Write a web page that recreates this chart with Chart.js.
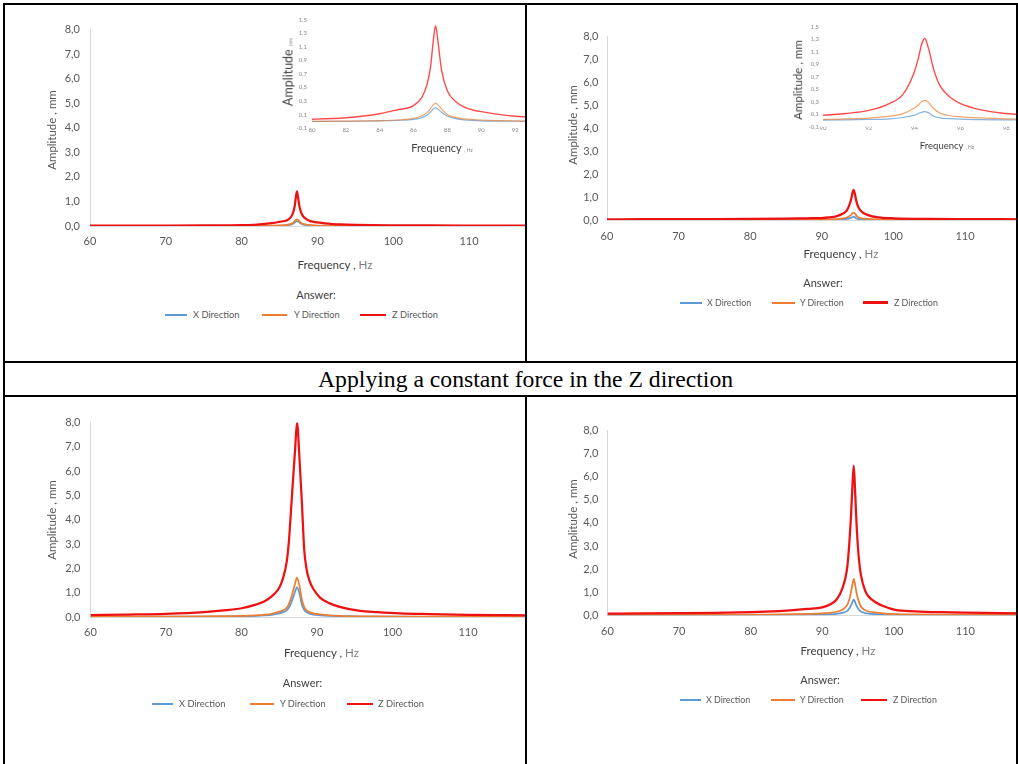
<!DOCTYPE html>
<html><head><meta charset="utf-8">
<script src="https://cdn.jsdelivr.net/npm/chart.js@4.4.1/dist/chart.umd.min.js"></script>
<style>
html,body{margin:0;padding:0;background:#fff;}
body{width:1018px;height:764px;position:relative;overflow:hidden;font-family:Lato,'Open Sans',sans-serif;}
.cell{position:absolute;overflow:hidden;}
.rule{position:absolute;background:#000;}
.t{position:absolute;white-space:nowrap;line-height:1.2;transform:translate(-50%,-50%);}
.ty{position:absolute;white-space:nowrap;line-height:1.2;transform:translate(-50%,-50%) rotate(-90deg);}
.lg{position:absolute;white-space:nowrap;line-height:1.2;transform:translateY(-50%);color:#595959;}
.ll{position:absolute;}
.cap{position:absolute;left:318px;top:363px;height:32px;line-height:32px;font-family:'Liberation Serif','Times New Roman',serif;font-size:23.7px;color:#000;white-space:nowrap;}
</style></head><body>
<div class="cap">Applying a constant force in the Z direction</div>
<script>
// ---------- data ----------
const seriesNames = ['X Direction', 'Y Direction', 'Z Direction'];

// Top-left: resonance near 87.3 Hz
const freqTL = [60, 65, 70, 75, 78, 80, 82, 84, 85, 86, 86.5, 86.8, 87, 87.15, 87.3, 87.45, 87.65, 88, 88.5, 89, 89.5, 90, 91, 92, 93, 95, 100, 105, 110, 115, 120];
const xTL = [0.001, 0.001, 0.001, 0.002, 0.002, 0.003, 0.004, 0.009, 0.016, 0.03, 0.057, 0.095, 0.14, 0.18, 0.2, 0.18, 0.135, 0.078, 0.043, 0.025, 0.016, 0.01, 0.006, 0.004, 0.003, 0.002, 0.001, 0.001, 0.001, 0.001, 0.001];
const yTL = [0.001, 0.001, 0.002, 0.002, 0.003, 0.003, 0.005, 0.012, 0.022, 0.045, 0.085, 0.13, 0.19, 0.24, 0.27, 0.245, 0.185, 0.1, 0.058, 0.038, 0.027, 0.02, 0.012, 0.008, 0.006, 0.004, 0.002, 0.002, 0.001, 0.001, 0.001];
const zTL = [0.012, 0.014, 0.017, 0.022, 0.028, 0.034, 0.055, 0.115, 0.17, 0.235, 0.36, 0.55, 0.8, 1.15, 1.41, 1.16, 0.76, 0.45, 0.29, 0.21, 0.17, 0.145, 0.105, 0.078, 0.062, 0.045, 0.028, 0.021, 0.017, 0.014, 0.012];

// Top-right: resonance near 94.4 Hz
const freqTR = [60, 65, 70, 75, 80, 85, 88, 90, 91, 92, 92.9, 93.5, 93.95, 94.17, 94.3, 94.44, 94.6, 94.83, 95.1, 95.55, 96, 96.9, 98, 98.5, 100, 105, 110, 115, 120];
const xTR = [0.001, 0.001, 0.002, 0.002, 0.003, 0.003, 0.004, 0.005, 0.009, 0.016, 0.026, 0.047, 0.08, 0.11, 0.13, 0.14, 0.125, 0.068, 0.042, 0.028, 0.02, 0.012, 0.008, 0.007, 0.005, 0.003, 0.002, 0.002, 0.001];
const yTR = [0.006, 0.007, 0.008, 0.009, 0.01, 0.012, 0.014, 0.016, 0.025, 0.037, 0.068, 0.11, 0.19, 0.25, 0.3, 0.32, 0.29, 0.19, 0.12, 0.075, 0.058, 0.04, 0.026, 0.022, 0.016, 0.01, 0.008, 0.007, 0.006];
const zTR = [0.03, 0.033, 0.037, 0.042, 0.05, 0.063, 0.075, 0.084, 0.11, 0.16, 0.27, 0.42, 0.74, 1.0, 1.21, 1.31, 1.16, 0.82, 0.56, 0.37, 0.27, 0.17, 0.11, 0.094, 0.075, 0.05, 0.04, 0.034, 0.03];

// Bottom-left: resonance near 87.35 Hz
const freqBL = [60, 65, 70, 75, 78, 80, 82, 83, 84, 85, 85.5, 86, 86.3, 86.6, 86.9, 87.1, 87.35, 87.7, 88, 88.3, 88.6, 89, 89.5, 90.4, 91.7, 93, 95.7, 98, 101, 105, 110, 115, 120];
const xBL = [0.006, 0.008, 0.011, 0.017, 0.024, 0.032, 0.05, 0.065, 0.09, 0.15, 0.2, 0.28, 0.4, 0.6, 0.86, 1.05, 1.22, 0.95, 0.5, 0.3, 0.2, 0.14, 0.1, 0.07, 0.045, 0.032, 0.02, 0.015, 0.012, 0.009, 0.007, 0.006, 0.005];
const yBL = [0.01, 0.012, 0.016, 0.024, 0.034, 0.045, 0.07, 0.09, 0.13, 0.22, 0.28, 0.38, 0.55, 0.82, 1.15, 1.38, 1.62, 1.25, 0.7, 0.42, 0.28, 0.2, 0.15, 0.11, 0.07, 0.05, 0.03, 0.024, 0.018, 0.014, 0.011, 0.009, 0.008];
const zBL = [0.08, 0.1, 0.13, 0.2, 0.28, 0.36, 0.52, 0.64, 0.85, 1.2, 1.6, 2.3, 3.2, 4.6, 6.0, 6.9, 8.0, 6.4, 4.7, 2.8, 2.0, 1.5, 1.16, 0.8, 0.56, 0.42, 0.25, 0.2, 0.15, 0.12, 0.09, 0.075, 0.065];

// Bottom-right: resonance near 94.4 Hz
const freqBR = [60, 65, 70, 75, 80, 82, 86, 88, 90, 91, 92, 92.8, 93.5, 93.8, 94, 94.2, 94.4, 94.6, 94.8, 95.1, 95.4, 96, 96.5, 97.5, 98.5, 100.2, 103, 106.7, 110, 115, 120];
const xBR = [0.004, 0.004, 0.005, 0.006, 0.008, 0.01, 0.015, 0.02, 0.028, 0.038, 0.06, 0.1, 0.19, 0.3, 0.42, 0.56, 0.68, 0.56, 0.4, 0.25, 0.16, 0.09, 0.065, 0.045, 0.032, 0.02, 0.013, 0.01, 0.008, 0.007, 0.006];
const yBR = [0.012, 0.013, 0.015, 0.018, 0.024, 0.028, 0.042, 0.055, 0.075, 0.1, 0.15, 0.24, 0.45, 0.7, 0.98, 1.3, 1.57, 1.3, 0.95, 0.6, 0.38, 0.22, 0.16, 0.11, 0.08, 0.05, 0.034, 0.026, 0.021, 0.017, 0.015];
const zBR = [0.07, 0.075, 0.085, 0.1, 0.13, 0.15, 0.22, 0.27, 0.34, 0.45, 0.68, 1.15, 2.1, 3.2, 4.2, 5.5, 6.48, 5.3, 3.9, 2.5, 1.75, 1.05, 0.8, 0.55, 0.4, 0.23, 0.17, 0.13, 0.11, 0.09, 0.08];

// ticks
const xTicksMain = [60, 70, 80, 90, 100, 110, 120];
const yTicksMain = [0, 1, 2, 3, 4, 5, 6, 7, 8];
const yLabelsMain = ['0,0', '1,0', '2,0', '3,0', '4,0', '5,0', '6,0', '7,0', '8,0'];
const xTicksInsetTL = [80, 82, 84, 86, 88, 90, 92, 94];
const xTicksInsetTR = [90, 92, 94, 96, 98, 100];
const yTicksInset = [-0.1, 0.1, 0.3, 0.5, 0.7, 0.9, 1.1, 1.3, 1.5];
const yLabelsInset = ['-0,1', '0,1', '0,3', '0,5', '0,7', '0,9', '1,1', '1,3', '1,5'];

// ---------- page frame ----------
const body = document.body;
function div(cls, css, html) {
  const d = document.createElement('div');
  d.className = cls; d.style.cssText = css;
  if (html !== undefined) d.innerHTML = html;
  body.appendChild(d); return d;
}
const cells = {
  TL: {x: 5, y: 5, w: 520, h: 356},
  TR: {x: 527, y: 5, w: 489, h: 356},
  BL: {x: 5, y: 397, w: 520, h: 367},
  BR: {x: 527, y: 397, w: 489, h: 367}
};
for (const k in cells) {
  const c = cells[k];
  c.el = div('cell', `left:${c.x}px;top:${c.y}px;width:${c.w}px;height:${c.h}px;`);
}
[[3,3,1015,2],[3,3,2,761],[1016,3,2,761],[525,3,2,360],[525,395,2,369],[3,361,1015,2],[3,395,1015,2]]
  .forEach(r => div('rule', `left:${r[0]}px;top:${r[1]}px;width:${r[2]}px;height:${r[3]}px;`));

// ---------- charts ----------
Chart.defaults.font.family = 'Lato, "Open Sans", sans-serif';
const COL = ['#5B9BD5', '#ED7D31', '#EE1111'];
const COL_INSET = ['rgba(91,155,213,0.75)', 'rgba(237,125,49,0.7)', '#FF4A4A'];

function plot(cell, s) {
  const cx = Math.floor(s.L) - s.yW, cy = Math.floor(s.T) - s.padT;
  const W = Math.ceil(s.R) + s.padR - cx, H = Math.ceil(s.B) + s.xH + 2 - cy;
  const cv = document.createElement('canvas');
  cv.width = W; cv.height = H;
  cv.style.cssText = `position:absolute;left:${cx - cell.x}px;top:${cy - cell.y}px;width:${W}px;height:${H}px;`;
  cell.el.appendChild(cv);
  const pad = {left: s.L - s.yW - cx, top: s.T - cy, right: W - (s.R - cx), bottom: H - s.xH - (s.B - cy)};
  const datasets = s.series.map((vals, i) => ({
    label: seriesNames[i],
    data: s.freq.map((f, j) => ({x: f, y: vals[j]})),
    borderColor: s.colors[i],
    backgroundColor: s.colors[i],
    borderWidth: s.widths[i],
    pointRadius: 0,
    fill: false,
    cubicInterpolationMode: 'monotone',
    order: 3 - i
  }));
  new Chart(cv, {
    type: 'line',
    data: {datasets},
    options: {
      responsive: false, animation: false, devicePixelRatio: 1,
      layout: {padding: pad},
      plugins: {legend: {display: false}, tooltip: {enabled: false}},
      events: [],
      scales: {
        x: {
          type: 'linear', min: s.xTicks[0], max: s.xTicks[s.xTicks.length - 1],
          afterBuildTicks: sc => { sc.ticks = s.xTicks.map(v => ({value: v})); },
          afterFit: sc => { sc.height = s.xH; },
          grid: {display: false, drawTicks: false},
          border: {display: s.border, color: '#d9d9d9', width: 1},
          ticks: {padding: s.xPad, color: s.tickColor, font: {size: s.tickSize}, maxRotation: 0, autoSkip: false,
                  callback: v => String(v)}
        },
        y: {
          type: 'linear', min: s.yTicks[0], max: s.yTicks[s.yTicks.length - 1],
          afterBuildTicks: sc => { sc.ticks = s.yTicks.map(v => ({value: v})); },
          afterFit: sc => { sc.width = s.yW; },
          grid: {display: false, drawTicks: false},
          border: {display: s.border, color: '#d9d9d9', width: 1},
          ticks: {padding: s.yPad, color: s.tickColor, font: {size: s.tickSize}, autoSkip: false,
                  callback: (v, i) => s.yLabels[i]}
        }
      }
    }
  });
}

function mainSpec(L, T, R, B, freq, series, yPad, xPad, wZ) {
  return {L, T, R, B, yW: 60, xH: 30, padT: 12, padR: 20, freq, series,
    colors: COL, widths: [1.75, 1.75, wZ], border: true,
    xTicks: xTicksMain, yTicks: yTicksMain, yLabels: yLabelsMain,
    tickColor: '#595959', tickSize: 11, xPad, yPad};
}
function insetSpec(L, T, R, B, freq, series, xTicks, yPad, xPad) {
  return {L, T, R, B, yW: 30, xH: 14, padT: 6, padR: 10, freq, series,
    colors: COL_INSET, widths: [1.2, 1.2, 1.4], border: false,
    xTicks, yTicks: yTicksInset, yLabels: yLabelsInset,
    tickColor: '#8a8a8a', tickSize: 6, xPad, yPad};
}

plot(cells.TL, mainSpec(90, 25, 544.8, 226, freqTL, [xTL, yTL, zTL], 10, 9, 2.25));
plot(cells.TL, insetSpec(312, 17, 549, 128.3, freqTL, [xTL, yTL, zTL], xTicksInsetTL, 5, -1.6));
plot(cells.TR, mainSpec(607, 33, 1036.6, 220, freqTR, [xTR, yTR, zTR], 8.5, 9.4, 2.25));
plot(cells.TR, insetSpec(823, 25, 1052, 126.7, freqTR, [xTR, yTR, zTR], xTicksInsetTR, 4, -2));
plot(cells.BL, mainSpec(90.5, 418, 543.5, 617, freqBL, [xBL, yBL, zBL], 10, 9, 2.25));
plot(cells.BR, mainSpec(607.5, 427.7, 1037, 615.2, freqBR, [xBR, yBR, zBR], 9, 10, 2.25));

// ---------- titles and legends ----------
function titleX(x, y, size) {
  div('t', `left:${x}px;top:${y}px;font-size:${size}px;color:#404040;`,
      'Frequency , <span style="color:#7f7f7f">Hz</span>');
}
function titleY(x, y, size) {
  div('ty', `left:${x}px;top:${y}px;font-size:${size}px;color:#595959;`, 'Amplitude , mm');
}
function legend(ax, ay, ly, items, fs) {
  div('t', `left:${ax}px;top:${ay}px;font-size:11px;color:#404040;`, 'Answer:');
  items.forEach((it, i) => {
    const h = i === 2 ? 2.5 : 2;
    div('ll', `left:${it[0]}px;top:${ly - h / 2}px;width:${it[1] - it[0]}px;height:${h}px;background:${COL[i]};`);
    div('lg', `left:${it[2]}px;top:${ly}px;font-size:${fs}px;`, seriesNames[i]);
  });
}
// top-left
titleY(52, 130, 11.5); titleX(335, 265, 11.5);
legend(316, 295, 315, [[165, 187, 193], [262, 287, 294], [360, 386, 392]], 9.3);
// top-right
titleY(573, 125, 11.5); titleX(841, 254, 11.5);
legend(823, 282.5, 302.5, [[680, 702, 707], [772, 795, 800], [863, 888, 894]], 8.9);
// bottom-left
titleY(52, 520, 11.5); titleX(321.5, 653, 11.5);
legend(302.5, 683, 704, [[152, 173, 179], [250, 274, 280], [347, 373, 378]], 9.3);
// bottom-right
titleY(573, 519, 11.5); titleX(838, 651, 11.5);
legend(820, 680, 700, [[680, 701, 706], [771, 795, 800], [861, 887, 893]], 8.9);

// inset titles
div('ty', 'left:288px;top:72px;font-size:12.5px;color:#404040;',
    'Amplitude <span style="font-size:5px;color:#8a8a8a">mm</span>');
div('t', 'left:442px;top:148px;font-size:11px;color:#404040;',
    'Frequency <span style="font-size:5px;color:#8a8a8a">, Hz</span>');
div('ty', 'left:798px;top:80px;font-size:11.5px;color:#404040;', 'Amplitude , mm');
div('t', 'left:947px;top:146px;font-size:9.5px;color:#404040;',
    'Frequency <span style="font-size:5px;color:#8a8a8a">, Hz</span>');
</script>
</body></html>
